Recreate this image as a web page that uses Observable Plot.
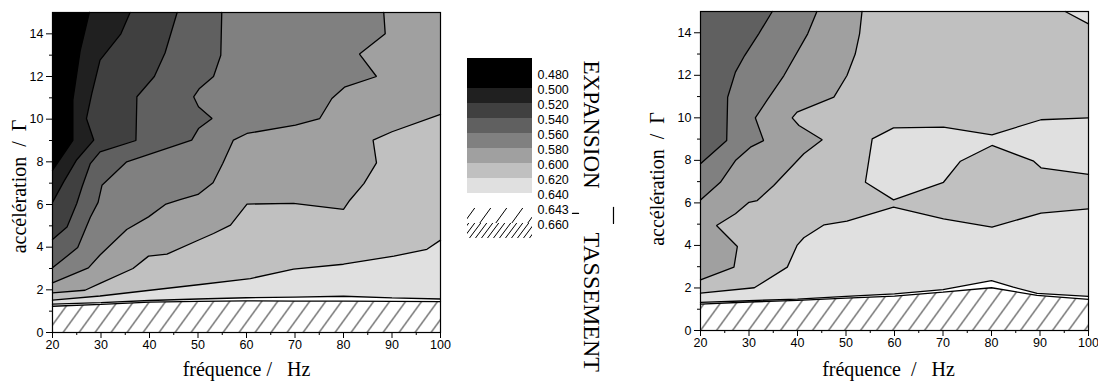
<!DOCTYPE html>
<html><head><meta charset="utf-8">
<script src="https://cdn.jsdelivr.net/npm/d3@7"></script>
<script src="https://cdn.jsdelivr.net/npm/@observablehq/plot@0.6"></script>
<style>
html,body{margin:0;padding:0;background:#fff;}
#fig{position:relative;width:1098px;height:381px;overflow:hidden;background:#fff;}
#fig svg{position:absolute;top:0;}
</style></head><body>
<svg width="0" height="0" style="position:absolute;left:0;top:0">
  <defs>
    <pattern id="hatch" patternUnits="userSpaceOnUse" width="16" height="22">
      <rect width="16" height="22" fill="#fff"/>
      <path d="M-16,22L0,0M0,22L16,0M16,22L32,0" stroke="#000" stroke-width="1" fill="none"/>
    </pattern>
    <pattern id="hatchDense" patternUnits="userSpaceOnUse" width="6" height="8">
      <rect width="6" height="8" fill="#fff"/>
      <path d="M-6,8L0,0M0,8L6,0M6,8L12,0" stroke="#000" stroke-width="1" fill="none"/>
    </pattern>
  </defs>
</svg>
<div id="fig"></div>
<script>
// ---------- axes ----------
const freqTicks = [20, 30, 40, 50, 60, 70, 80, 90, 100];
const freqMinor = [25, 35, 45, 55, 65, 75, 85, 95];
const accelTicks = [0, 2, 4, 6, 8, 10, 12, 14];
const accelMinor = [1, 3, 5, 7, 9, 11, 13];
const xTitle1 = "fréquence /   Hz";
const xTitle2 = "fréquence  /   Hz";
const yTitle = "accélération  /  Γ";

// ---------- legend ----------
const levelLabels = ["0.480", "0.500", "0.520", "0.540", "0.560", "0.580", "0.600", "0.620", "0.640", "0.643", "0.660"];
const levelFills = ["#000000", "#000000", "#202020", "#404040", "#606060", "#808080", "#a0a0a0", "#c0c0c0", "#e0e0e0", "#ffffff", "url(#hatch)", "url(#hatchDense)"];
const sideWords = ["EXPANSION", "TASSEMENT"];

// ---------- left panel: contour lines [fréquence Hz, accélération Γ] ----------
const g_0500 = [[20, 7.6], [24.2, 9.0], [24.2, 10.9], [25.7, 13.2], [27.6, 15]];
const g_0520 = [[20, 6.1], [22.3, 7.06], [25.0, 8.1], [28.5, 9.02], [27.0, 10.03], [28.1, 11.2], [29.8, 12.77], [34.1, 14.0], [36.0, 15]];
const g_0540 = [[20, 4.36], [23.0, 4.95], [25.0, 6.05], [26.1, 6.83], [27.8, 7.92], [29.8, 8.47], [37.2, 9.0], [37.4, 11.05], [41.0, 12.0], [43.2, 13.1], [45.7, 15]];
const g_0560 = [[20, 3.03], [25.2, 3.98], [27.8, 5.4], [29.4, 6.1], [30.2, 6.9], [35.3, 8.0], [48.7, 9.02], [50.1, 9.56], [52.9, 10.03], [50.1, 10.58], [49.1, 11.05], [50.3, 11.44], [53.2, 12.0], [54.7, 13.0], [54.9, 15]];
const g_0580 = [[20, 2.33], [27.4, 3.03], [29.8, 3.63], [35.3, 4.83], [39.8, 5.42], [43.4, 6.02], [46.3, 6.23], [50.0, 6.47], [53.1, 7.02], [55.1, 7.92], [57.3, 9.02], [60.1, 9.33], [70.1, 9.72], [75.1, 10.03], [77.6, 10.97], [80.2, 11.5], [86.8, 12.0], [83.3, 13.05], [88.6, 14.0], [88.3, 15]];
const g_0600 = [[20, 1.86], [26.7, 1.98], [29.8, 2.3], [36.6, 3.0], [39.8, 3.58], [43.6, 3.67], [49.8, 4.3], [53.2, 4.64], [56.7, 5.03], [60.1, 6.02], [69.7, 6.05], [80.0, 5.77], [81.3, 6.2], [84.2, 6.98], [86.8, 7.95], [86.1, 9.02], [90.0, 9.41], [100, 10.22]];
const g_0620 = [[20, 1.52], [29.8, 1.71], [40.1, 1.98], [50.5, 2.25], [60.8, 2.53], [69.7, 2.97], [80.0, 3.2], [90.4, 3.58], [97.2, 3.9], [100, 4.33]];
const g_0640 = [[20, 1.33], [30, 1.4], [40, 1.5], [50, 1.57], [60, 1.63], [70, 1.66], [80, 1.7], [90, 1.62], [100, 1.57]];
const g_0643 = [[20, 1.23], [30, 1.32], [40, 1.42], [50, 1.46], [60, 1.48], [70, 1.47], [80, 1.47], [90, 1.46], [100, 1.45]];

// ---------- right panel ----------
const d_0560 = [[20, 7.84], [25.4, 8.93], [25.6, 10.97], [27.2, 12.15], [29.1, 12.93], [32.0, 13.95], [34.8, 15]];
const d_0580 = [[20, 6.14], [24.1, 6.97], [27.2, 7.99], [30.3, 8.62], [33.0, 8.93], [31.3, 10.0], [33.7, 10.82], [37.2, 11.99], [42.1, 13.95], [44.0, 15]];
const d_0600 = [[20, 2.38], [26.9, 2.98], [27.6, 3.95], [23.3, 4.94], [27.2, 5.49], [30.0, 6.03], [31.7, 6.11], [35.1, 6.82], [41.3, 8.31], [45.1, 8.97], [40.3, 9.64], [38.9, 10.0], [39.9, 10.27], [47.5, 10.97], [50.2, 11.99], [51.9, 13.0], [52.8, 13.95], [53.3, 15]];
const d_0620 = [[20, 1.76], [31.1, 2.01], [37.9, 2.98], [39.9, 4.0], [41.3, 4.36], [45.5, 4.97], [50.2, 5.14], [59.8, 5.8], [70.1, 5.25], [80.1, 4.86], [90.2, 5.52], [100, 5.72]];
const d_0620_island = [[100, 10.0], [90.2, 9.91], [80.1, 9.2], [70.1, 9.56], [59.8, 9.53], [55.4, 9.01], [54.7, 7.99], [54.0, 6.97], [59.8, 6.14], [70.1, 6.97], [73.6, 7.96], [80.1, 8.7], [88.7, 7.96], [90.2, 7.65], [100, 7.34]];
const d_0620_corner = [[95.2, 15], [100, 14.42]];
const d_0640 = [[20, 1.32], [30, 1.4], [40, 1.48], [50, 1.6], [60, 1.72], [70, 1.92], [80, 2.35], [84.5, 2.04], [89.4, 1.75], [100, 1.6]];
const d_0643 = [[20, 1.24], [30, 1.34], [40, 1.42], [50, 1.52], [60, 1.62], [70, 1.8], [80, 2.01], [89.4, 1.65], [100, 1.46]];

// ---------- helpers ----------
const F0 = 20, F1 = 100, A1 = 15;
// polygon of the region lying above/left of a contour that starts on the left edge
function above(pts) {
  const end = pts[pts.length - 1];
  const out = pts.slice();
  if (end[0] >= F1 && end[1] < A1) out.push([F1, A1]);
  out.push([F0, A1]);
  return out;
}
function topRight(pts) { return [...pts, [F1, A1]]; }
const xy = {x: d => d[0], y: d => d[1]};
const serif = "'Liberation Serif', 'Times New Roman', serif";

function panel({width, marginLeft, marginRight, marginTop, marginBottom, layers, xTitle, xdx, xdy, ydx, ydy}) {
  return Plot.plot({
    width, height: 381, marginLeft, marginRight, marginTop, marginBottom,
    style: {fontFamily: "'Liberation Sans', Arial, sans-serif", fontSize: "12.5px", color: "#000", background: "transparent", overflow: "visible"},
    x: {domain: [20, 100], label: null},
    y: {domain: [0, 15], label: null},
    marks: [
      Plot.frame({fill: "url(#hatch)", stroke: "none"}),
      ...layers.map(([pts, fill, shape]) => Plot.line(shape(pts), {...xy, fill, stroke: "none", curve: "linear"})),
      ...layers.map(([pts]) => Plot.line(pts, {...xy, stroke: "#000", strokeWidth: 1.3, strokeLinejoin: "miter", curve: "linear"})),
      Plot.axisX(freqTicks, {tickSize: 6, tickPadding: 2, label: null}),
      Plot.axisX(freqMinor, {tickSize: 3, text: null, label: null}),
      Plot.axisY(accelTicks, {tickSize: 6, tickPadding: 3, label: null}),
      Plot.axisY(accelMinor, {tickSize: 3, text: null, label: null}),
      Plot.frame({stroke: "#000", strokeWidth: 1.2}),
      Plot.text([yTitle], {text: d => d, frameAnchor: "left", textAnchor: "middle", lineAnchor: "middle", rotate: -90, dx: ydx, dy: ydy, fontFamily: serif, fontSize: 20}),
      Plot.text([xTitle], {text: d => d, frameAnchor: "bottom", textAnchor: "middle", lineAnchor: "middle", dx: xdx, dy: xdy, fontFamily: serif, fontSize: 20})
    ]
  });
}

const id = p => p;
const left = panel({
  width: 450, marginLeft: 52, marginRight: 10, marginTop: 12, marginBottom: 49,
  xTitle: xTitle1, xdx: 0, xdy: 37, ydx: -33, ydy: 14,
  layers: [
    [g_0643, "#ffffff", above],
    [g_0640, "#e0e0e0", above],
    [g_0620, "#c0c0c0", above],
    [g_0600, "#a0a0a0", above],
    [g_0580, "#808080", above],
    [g_0560, "#606060", above],
    [g_0540, "#404040", above],
    [g_0520, "#202020", above],
    [g_0500, "#000000", above]
  ]
});
left.style.left = "0px";

const right = panel({
  width: 478, marginLeft: 80, marginRight: 10, marginTop: 11, marginBottom: 51,
  xTitle: xTitle2, xdx: -6, xdy: 39, ydx: -43, ydy: 8,
  layers: [
    [d_0643, "#ffffff", above],
    [d_0640, "#e0e0e0", above],
    [d_0620, "#c0c0c0", above],
    [d_0620_island, "#e0e0e0", id],
    [d_0620_corner, "#e0e0e0", topRight],
    [d_0600, "#a0a0a0", above],
    [d_0580, "#808080", above],
    [d_0560, "#606060", above]
  ]
});
right.style.left = "620px";

const bands = levelFills.map((fill, i) => ({i, fill}));
const legendDash = [[1.615, 10.33], [1.708, 10.33]];
const legendBar = [[2.246, 9.93], [2.246, 11.0]];
const legend = Plot.plot({
  width: 170, height: 381, marginLeft: 17, marginRight: 88, marginTop: 58, marginBottom: 143,
  style: {fontFamily: "'Liberation Sans', Arial, sans-serif", fontSize: "12.5px", color: "#000", background: "transparent", overflow: "visible"},
  x: {domain: [0, 1], axis: null},
  y: {domain: [0, 12], reverse: true, axis: null},
  color: {type: "identity"},
  marks: [
    Plot.rect(bands, {x1: 0, x2: 1, y1: "i", y2: d => d.i + 1, fill: "fill"}),
    Plot.text(levelLabels, {text: d => d, x: 1, y: (d, i) => i + 1, dx: 5, dy: 1, textAnchor: "start"}),
    Plot.text([sideWords[0]], {text: d => d, frameAnchor: "top-right", dx: 59, dy: 2, rotate: 90, textAnchor: "start", lineAnchor: "middle", fontFamily: serif, fontSize: 23}),
    Plot.text([sideWords[1]], {text: d => d, frameAnchor: "top-right", dx: 59, dy: 174, rotate: 90, textAnchor: "start", lineAnchor: "middle", fontFamily: serif, fontSize: 24}),
    Plot.line(legendDash, {...xy, stroke: "#000", strokeWidth: 1.2}),
    Plot.line(legendBar, {...xy, stroke: "#000", strokeWidth: 1.2})
  ]
});
legend.style.left = "450px";

const fig = document.getElementById("fig");
fig.append(left, legend, right);
</script>
</body></html>
